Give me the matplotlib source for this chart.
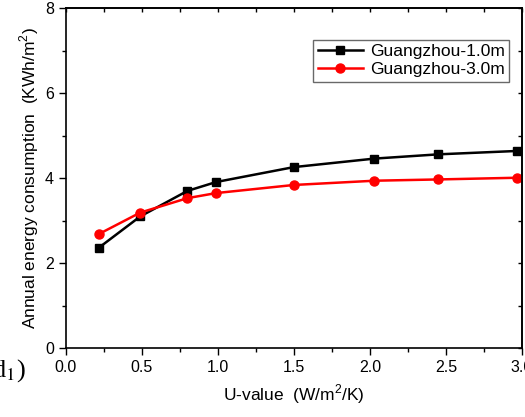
import matplotlib
matplotlib.use("Agg")
import matplotlib.pyplot as plt
from matplotlib.ticker import MultipleLocator

# U-value (W/m2/K) and annual energy consumption (KWh/m2)
u_value = [0.22, 0.49, 0.80, 0.99, 1.50, 2.03, 2.45, 2.97]
gz_10m = [2.37, 3.10, 3.70, 3.91, 4.26, 4.46, 4.56, 4.64]
gz_30m = [2.69, 3.19, 3.53, 3.65, 3.84, 3.94, 3.97, 4.01]
series_names = ["Guangzhou-1.0m", "Guangzhou-3.0m"]

plt.rcParams["font.family"] = ["Liberation Sans", "DejaVu Sans"]
plt.rcParams["mathtext.fontset"] = "custom"
plt.rcParams["mathtext.rm"] = "Liberation Sans"

fig = plt.figure(figsize=(5.25, 4.17), dpi=100)
ax = fig.add_axes([0.1251, 0.1647, 0.8692, 0.8161])

ax.plot(u_value, gz_10m, color="black", lw=1.8, marker="s", ms=5.5, label=series_names[0])
ax.plot(u_value, gz_30m, color="red", lw=1.8, marker="o", ms=6.5, label=series_names[1])

ax.set_xlim(0, 3.0)
ax.set_ylim(0, 8)
ax.xaxis.set_major_locator(MultipleLocator(0.5))
ax.xaxis.set_minor_locator(MultipleLocator(0.25))
ax.yaxis.set_major_locator(MultipleLocator(2))
ax.yaxis.set_minor_locator(MultipleLocator(1))
ax.xaxis.set_major_formatter(lambda v, p: f"{v:.1f}")
ax.yaxis.set_major_formatter(lambda v, p: f"{v:.0f}")
ax.tick_params(which="major", direction="out", length=5, width=1, labelsize=11.5)
ax.tick_params(which="minor", direction="out", length=3, width=1)
for s in ax.spines.values():
    s.set_linewidth(1.2)

# Origin-style top/right axes with inward ticks
top = ax.secondary_xaxis("top")
top.xaxis.set_major_locator(MultipleLocator(0.25))
top.tick_params(direction="in", length=3, width=1, labeltop=False)
right = ax.secondary_yaxis("right")
right.yaxis.set_major_locator(MultipleLocator(1))
right.tick_params(direction="in", length=3, width=1, labelright=False)
for sec in (top, right):
    for s in sec.spines.values():
        s.set_linewidth(1.2)

ax.set_xlabel("U-value  (W/m$^2$/K)", fontsize=12.5, labelpad=5)
ax.set_ylabel("Annual energy consumption  (KWh/m$^2$)", fontsize=12.5, labelpad=3)

leg = ax.legend(loc="upper right", bbox_to_anchor=(0.9715, 0.906), borderaxespad=0,
                fontsize=12.5, frameon=True, fancybox=False, edgecolor="#444444",
                handlelength=2.6, borderpad=0.25, labelspacing=0.15, handletextpad=0.4)
leg.get_frame().set_linewidth(1.0)

# panel tag
fig.text(-0.015, 0.098, "d$_1$)", fontsize=19, family="Liberation Serif",
         math_fontfamily="stix", va="baseline")

fig.savefig("out.png", dpi=100)
